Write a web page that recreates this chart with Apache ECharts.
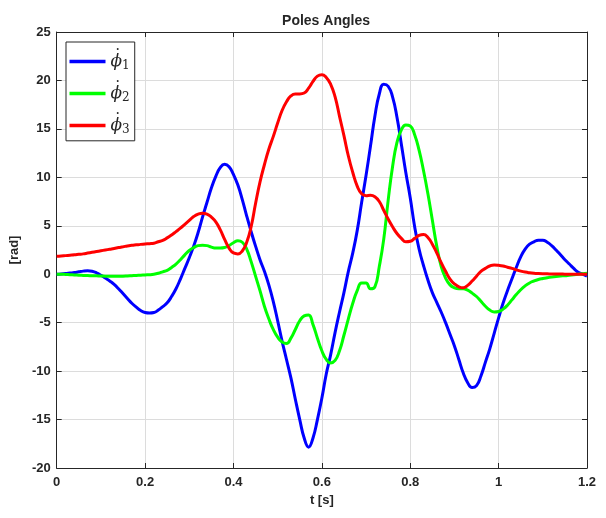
<!DOCTYPE html>
<html>
<head>
<meta charset="utf-8">
<script src="https://cdn.jsdelivr.net/npm/echarts@6/dist/echarts.min.js"></script>
<style>
  html, body { margin: 0; padding: 0; background: #fff; }
  #chart { width: 606px; height: 518px; }
</style>
</head>
<body>
<div id="chart"></div>
<script>
// time base, 0 .. 1.2 s in 0.01 steps
const tStep = 0.01;
const tCount = 121;
const xTicks = ['0', '0.2', '0.4', '0.6', '0.8', '1', '1.2'];
const yTicks = [-20, -15, -10, -5, 0, 5, 10, 15, 20, 25];

const phi1 = [
  0, 0.03, 0.07, 0.12, 0.17, 0.25, 0.32, 0.35, 0.3, 0.15,
  -0.1, -0.4, -0.7, -1.05, -1.5, -2.0, -2.5, -3.0, -3.4, -3.75,
  -3.95, -4.0, -3.95, -3.7, -3.35, -2.95, -2.3, -1.5, -0.5, 0.6,
  1.7, 2.9, 4.3, 5.9, 7.4, 8.9, 10.1, 11.0, 11.35, 11.1,
  10.3, 9.2, 7.7, 6.0, 4.4, 2.9, 1.5, 0.3, -1.1, -2.8,
  -4.8, -6.9, -8.8, -10.7, -12.9, -15.0, -16.9, -17.85, -16.9, -15.0,
  -12.8, -10.3, -8.3, -6.0, -3.9, -1.9, 0.3, 2.2, 4.5, 7.4,
  10.2, 13.2, 16.3, 18.6, 19.6, 19.4, 18.3, 16.2, 13.4, 10.5,
  7.9, 4.9, 2.6, 0.9, -0.6, -1.9, -2.9, -3.9, -5.0, -6.2,
  -7.4, -8.8, -10.2, -11.2, -11.7, -11.5, -10.5, -9.1, -7.7, -6.1,
  -4.5, -3.0, -1.7, -0.5, 0.7, 1.8, 2.6, 3.1, 3.35, 3.5,
  3.5, 3.3, 2.95, 2.5, 2.0, 1.5, 1.05, 0.6, 0.2, 0.0,
  -0.2
];

const phi2 = [
  0, 0, -0.02, -0.05, -0.07, -0.1, -0.12, -0.14, -0.15, -0.17,
  -0.18, -0.2, -0.2, -0.2, -0.2, -0.2, -0.18, -0.15, -0.12, -0.1,
  -0.07, -0.05, 0.0, 0.1, 0.25, 0.4, 0.7, 1.05, 1.5, 2.0,
  2.45, 2.75, 2.95, 3.0, 2.95, 2.8, 2.7, 2.7, 2.75, 2.95,
  3.25, 3.45, 3.3, 2.6, 1.3, -0.2, -1.7, -3.3, -4.6, -5.7,
  -6.5, -7.0, -7.15, -6.6, -5.7, -4.8, -4.3, -4.2, -5.2, -6.6,
  -7.9, -8.8, -9.15, -8.9, -7.9, -6.3, -4.6, -3.0, -1.7, -0.9,
  -0.9, -1.5, -1.3, 0.8, 3.6, 7.6, 11.1, 13.6, 14.9, 15.4,
  15.3, 14.4, 12.8, 10.7, 8.3, 5.6, 2.9, 0.8, -0.4, -1.1,
  -1.4, -1.5, -1.5, -1.65, -1.95, -2.3, -2.8, -3.3, -3.7, -3.9,
  -3.85, -3.6, -3.2, -2.65, -2.1, -1.6, -1.2, -0.9, -0.7, -0.55,
  -0.45, -0.37, -0.3, -0.24, -0.19, -0.15, -0.1, -0.05, 0.0, 0.05,
  0.1
];

const phi3 = [
  1.85, 1.88, 1.92, 1.96, 2.0, 2.05, 2.1, 2.18, 2.26, 2.34,
  2.42, 2.5, 2.58, 2.66, 2.75, 2.83, 2.92, 2.98, 3.03, 3.08,
  3.12, 3.15, 3.2, 3.35, 3.5, 3.75, 4.05, 4.4, 4.75, 5.15,
  5.55, 5.95, 6.2, 6.3, 6.2, 5.9, 5.4, 4.6, 3.6, 2.7,
  2.2, 2.1, 2.4, 3.3, 4.9, 7.3, 9.5, 11.3, 12.9, 14.2,
  15.6, 16.9, 17.8, 18.4, 18.6, 18.6, 18.7, 19.2, 19.9, 20.45,
  20.6, 20.3, 19.6, 18.3, 16.3, 14.3, 12.2, 10.5, 9.1, 8.3,
  8.1, 8.15, 8.0, 7.5, 6.6, 5.7, 4.9, 4.2, 3.7, 3.35,
  3.4, 3.7, 4.0, 4.1, 3.8, 3.1, 2.2, 1.2, 0.3, -0.5,
  -1.0, -1.3, -1.4, -1.15, -0.7, -0.2, 0.3, 0.6, 0.85, 0.95,
  0.92, 0.85, 0.72, 0.6, 0.45, 0.32, 0.22, 0.15, 0.1, 0.07,
  0.05, 0.04, 0.03, 0.02, 0.02, 0.01, 0.01, 0, 0, 0,
  0
];

const seriesNames = ['phi1', 'phi2', 'phi3'];
const seriesColors = ['#0000ff', '#00ff00', '#ff0000'];
const seriesValues = [phi1, phi2, phi3];

const t = Array.from({ length: tCount }, (_, i) => +(i * tStep).toFixed(2));

const axisColor = '#262626';
const labelFont = { color: axisColor, fontSize: 13, fontWeight: 'bold', fontFamily: 'Liberation Sans, Arial, sans-serif' };

const chart = echarts.init(document.getElementById('chart'), null, { renderer: 'canvas' });

// mirror axes on top/right to close the box, ticks pointing in
const boxAxis = {
  type: 'value',
  axisLine: { show: true, onZero: false, lineStyle: { color: axisColor, width: 1 } },
  axisTick: { show: true, inside: true, length: 5, lineStyle: { color: axisColor } },
  axisLabel: { show: false },
  splitLine: { show: false }
};

chart.setOption({
  animation: false,
  backgroundColor: '#fff',
  title: {
    text: 'Poles Angles',
    left: 321,
    top: 9,
    textAlign: 'center',
    textStyle: { color: axisColor, fontSize: 14, fontWeight: 'bold', fontFamily: 'Liberation Sans, Arial, sans-serif' }
  },
  grid: { left: 56, top: 32, right: 19, bottom: 50, containLabel: false },
  legend: {
    orient: 'vertical',
    left: 66,
    top: 42,
    padding: [1.5, 5, 1.3, 3.5],
    itemGap: 0,
    itemWidth: 36,
    itemHeight: 20,
    backgroundColor: '#fff',
    borderColor: axisColor,
    borderWidth: 1,
    borderRadius: 0,
    icon: 'path://M0,0 L36,0 L36,3.4 L0,3.4 Z',
    data: seriesNames,
    formatter: function (name) {
      const i = seriesNames.indexOf(name) + 1;
      // dot above phi drawn on its own short line
      return '{d|·}\n{p|ϕ}{s|' + i + '}\n{e| }';
    },
    textStyle: {
      rich: {
        d: { fontFamily: 'DejaVu Serif', fontSize: 14, color: axisColor, lineHeight: 6, padding: [0, 0, 0, 5] },
        p: { fontFamily: 'DejaVu Serif', fontStyle: 'italic', fontSize: 17, color: axisColor, lineHeight: 16 },
        s: { fontFamily: 'DejaVu Serif', fontSize: 12, color: axisColor, padding: [9, 0, 0, 0], lineHeight: 16 },
        e: { fontSize: 6, lineHeight: 6 }
      }
    }
  },
  xAxis: [
    {
      type: 'value',
      min: 0,
      max: 1.2,
      interval: 0.2,
      name: 't [s]',
      nameLocation: 'middle',
      nameGap: 24,
      nameTextStyle: labelFont,
      axisLine: { show: true, onZero: false, lineStyle: { color: axisColor, width: 1 } },
      axisTick: { show: true, inside: true, length: 5, lineStyle: { color: axisColor } },
      axisLabel: {
        ...labelFont,
        margin: 8,
        formatter: function (v) { return xTicks[Math.round(v / 0.2)]; }
      },
      splitLine: { show: true, lineStyle: { color: '#dcdcdc', width: 1 } }
    },
    { ...boxAxis, position: 'top', min: 0, max: 1.2, interval: 0.2 }
  ],
  yAxis: [
    {
      type: 'value',
      min: yTicks[0],
      max: yTicks[yTicks.length - 1],
      interval: 5,
      name: '[rad]',
      nameLocation: 'middle',
      nameGap: 33,
      nameRotate: 90,
      nameTextStyle: labelFont,
      axisLine: { show: true, onZero: false, lineStyle: { color: axisColor, width: 1 } },
      axisTick: { show: true, inside: true, length: 5, lineStyle: { color: axisColor } },
      axisLabel: { ...labelFont, margin: 6 },
      splitLine: { show: true, lineStyle: { color: '#dcdcdc', width: 1 } }
    },
    { ...boxAxis, position: 'right', min: yTicks[0], max: yTicks[yTicks.length - 1], interval: 5 }
  ],
  series: seriesNames.map((name, k) => ({
    name: name,
    type: 'line',
    xAxisIndex: 0,
    yAxisIndex: 0,
    showSymbol: false,
    smooth: true,
    color: seriesColors[k],
    lineStyle: { color: seriesColors[k], width: 3 },
    data: t.map((x, i) => [x, seriesValues[k][i]])
  }))
});
</script>
</body>
</html>
